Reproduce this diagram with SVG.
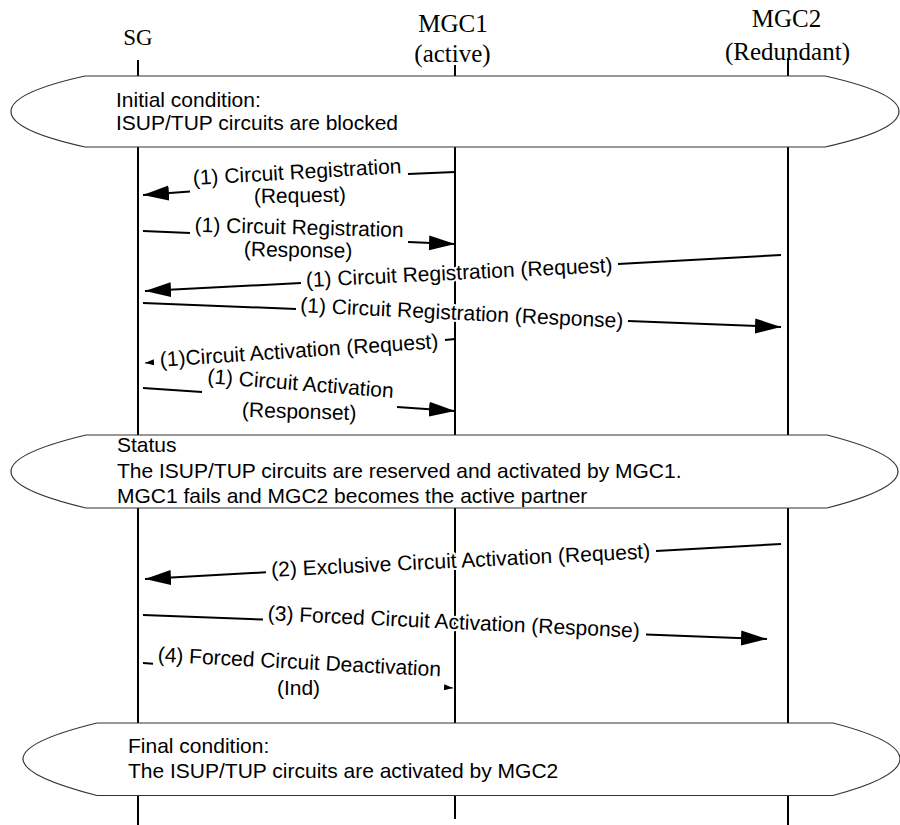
<svg xmlns="http://www.w3.org/2000/svg" width="900" height="825" viewBox="0 0 900 825">
<style>
.hdr{font-family:"Liberation Serif","Times New Roman",serif;font-size:25px;fill:#000;text-anchor:middle}
.life{stroke:#000;stroke-width:2;fill:none}
.cond{fill:#fff;stroke:#333;stroke-width:1.2}
.ct{font-family:"Liberation Sans",Arial,sans-serif;font-size:21px;fill:#000}
.msg{stroke:#000;stroke-width:2;fill:none}
.lbl{font-family:"Liberation Sans",Arial,sans-serif;font-size:21px;fill:#000;text-anchor:middle;stroke:#fff;stroke-width:4;paint-order:stroke;stroke-linejoin:round}
</style>
<defs>
<marker id="big" viewBox="0 0 26 16" refX="26" refY="8" markerWidth="26" markerHeight="16" markerUnits="userSpaceOnUse" orient="auto"><path d="M0,0.5 L26,8 L0,15.5 Z" fill="#000"/></marker>
<marker id="small" viewBox="0 0 9 6" refX="9" refY="3" markerWidth="9" markerHeight="6" markerUnits="userSpaceOnUse" orient="auto"><path d="M0,0 L9,3 L0,6 Z" fill="#000"/></marker>
</defs>
<rect width="900" height="825" fill="#fff"/>
<g id="sg">
<text class="hdr" x="138" y="45" style="font-size:23px">SG</text>
<line class="life" x1="138" y1="60" x2="138" y2="825"/>
</g>
<g id="mgc1">
<text class="hdr" x="453" y="32">MGC1</text>
<text class="hdr" x="452.5" y="62">(active)</text>
<line class="life" x1="455" y1="65" x2="455" y2="819"/>
</g>
<g id="mgc2">
<text class="hdr" x="786.5" y="27">MGC2</text>
<text class="hdr" x="787.5" y="60">(Redundant)</text>
<line class="life" x1="788" y1="58" x2="788" y2="825"/>
</g>
<g id="initial-condition">
<path class="cond" d="M85,76 L825,76 C870,86 899,98 899,111.5 C899,125 870,137 825,147 L85,147 C40,137 11,125 11,111.5 C11,98 40,86 85,76 Z"/>
<text class="ct" x="116" y="107">Initial condition:</text>
<text class="ct" x="116" y="129.5">ISUP/TUP circuits are blocked</text>
</g>
<g id="status">
<path class="cond" d="M86,435 L827,435 C870,446 898,458 898,471.5 C898,485 870,497 827,508 L86,508 C40,497 11,485 11,471.5 C11,458 40,446 86,435 Z"/>
<text class="ct" x="117" y="452">Status</text>
<text class="ct" x="117" y="478">The ISUP/TUP circuits are reserved and activated by MGC1.</text>
<text class="ct" x="117" y="503">MGC1 fails and MGC2 becomes the active partner</text>
</g>
<g id="final-condition">
<path class="cond" d="M97,723 L833,723 C876,734 900,746 900,759 C900,772 876,784 833,795.5 L97,795.5 C52,784 23,772 23,759 C23,746 52,734 97,723 Z"/>
<text class="ct" x="128" y="753">Final condition:</text>
<text class="ct" x="128" y="778">The ISUP/TUP circuits are activated by MGC2</text>
</g>
<g id="connectors">
<g id="m1">
<line class="msg" x1="455" y1="172" x2="408" y2="174"/>
<line class="msg" x1="190" y1="191.5" x2="143" y2="195" marker-end="url(#big)"/>
<text class="lbl" transform="translate(297.5,179) rotate(-3.3)">(1) Circuit Registration</text>
<text class="lbl" transform="translate(300,202.5) rotate(-1)">(Request)</text>
</g>
<g id="m2">
<line class="msg" x1="143" y1="231" x2="190" y2="233"/>
<line class="msg" x1="408" y1="242" x2="455" y2="244" marker-end="url(#big)"/>
<text class="lbl" transform="translate(299,234.5) rotate(1.4)">(1) Circuit Registration</text>
<text class="lbl" transform="translate(298,257) rotate(1)">(Response)</text>
</g>
<g id="m3">
<line class="msg" x1="781" y1="255" x2="618" y2="264"/>
<line class="msg" x1="301" y1="283" x2="145" y2="291" marker-end="url(#big)"/>
<text class="lbl" transform="translate(459.5,279.5) rotate(-2.8)">(1) Circuit Registration (Request)</text>
</g>
<g id="m4">
<line class="msg" x1="143" y1="303" x2="296" y2="309"/>
<line class="msg" x1="628" y1="321" x2="781" y2="327" marker-end="url(#big)"/>
<text class="lbl" transform="translate(461.5,320) rotate(2.8)">(1) Circuit Registration (Response)</text>
</g>
<g id="m5">
<line class="msg" x1="455" y1="339" x2="445" y2="340"/>
<line class="msg" x1="154" y1="362.3" x2="145" y2="363" marker-end="url(#small)" style="stroke-width:1"/>
<text class="lbl" transform="translate(299.5,357.5) rotate(-3.8)">(1)Circuit Activation (Request)</text>
</g>
<g id="m6">
<line class="msg" x1="143" y1="388" x2="202" y2="392"/>
<line class="msg" x1="397" y1="407" x2="455" y2="411" marker-end="url(#big)"/>
<text class="lbl" transform="translate(300,390.5) rotate(4.5)">(1) Circuit Activation</text>
<text class="lbl" transform="translate(299,418.5) rotate(1.6)">(Responset)</text>
</g>
<g id="m7">
<line class="msg" x1="781" y1="544" x2="656" y2="551"/>
<line class="msg" x1="266" y1="572.3" x2="145" y2="579" marker-end="url(#big)"/>
<text class="lbl" transform="translate(461,567.5) rotate(-2.8)">(2) Exclusive Circuit Activation (Request)</text>
</g>
<g id="m8">
<line class="msg" x1="143" y1="615" x2="263" y2="619.6"/>
<line class="msg" x1="646" y1="634.4" x2="767" y2="639" marker-end="url(#big)"/>
<text class="lbl" transform="translate(453.5,629) rotate(2.7)">(3) Forced Circuit Activation (Response)</text>
</g>
<g id="m9">
<line class="msg" x1="143" y1="663" x2="153" y2="663.8"/>
<line class="msg" x1="445" y1="687.4" x2="453" y2="688" marker-end="url(#small)" style="stroke-width:1"/>
<text class="lbl" transform="translate(299,669) rotate(3)">(4) Forced Circuit Deactivation</text>
<text class="lbl" transform="translate(298.5,695)">(Ind)</text>
</g>
</g>
</svg>
